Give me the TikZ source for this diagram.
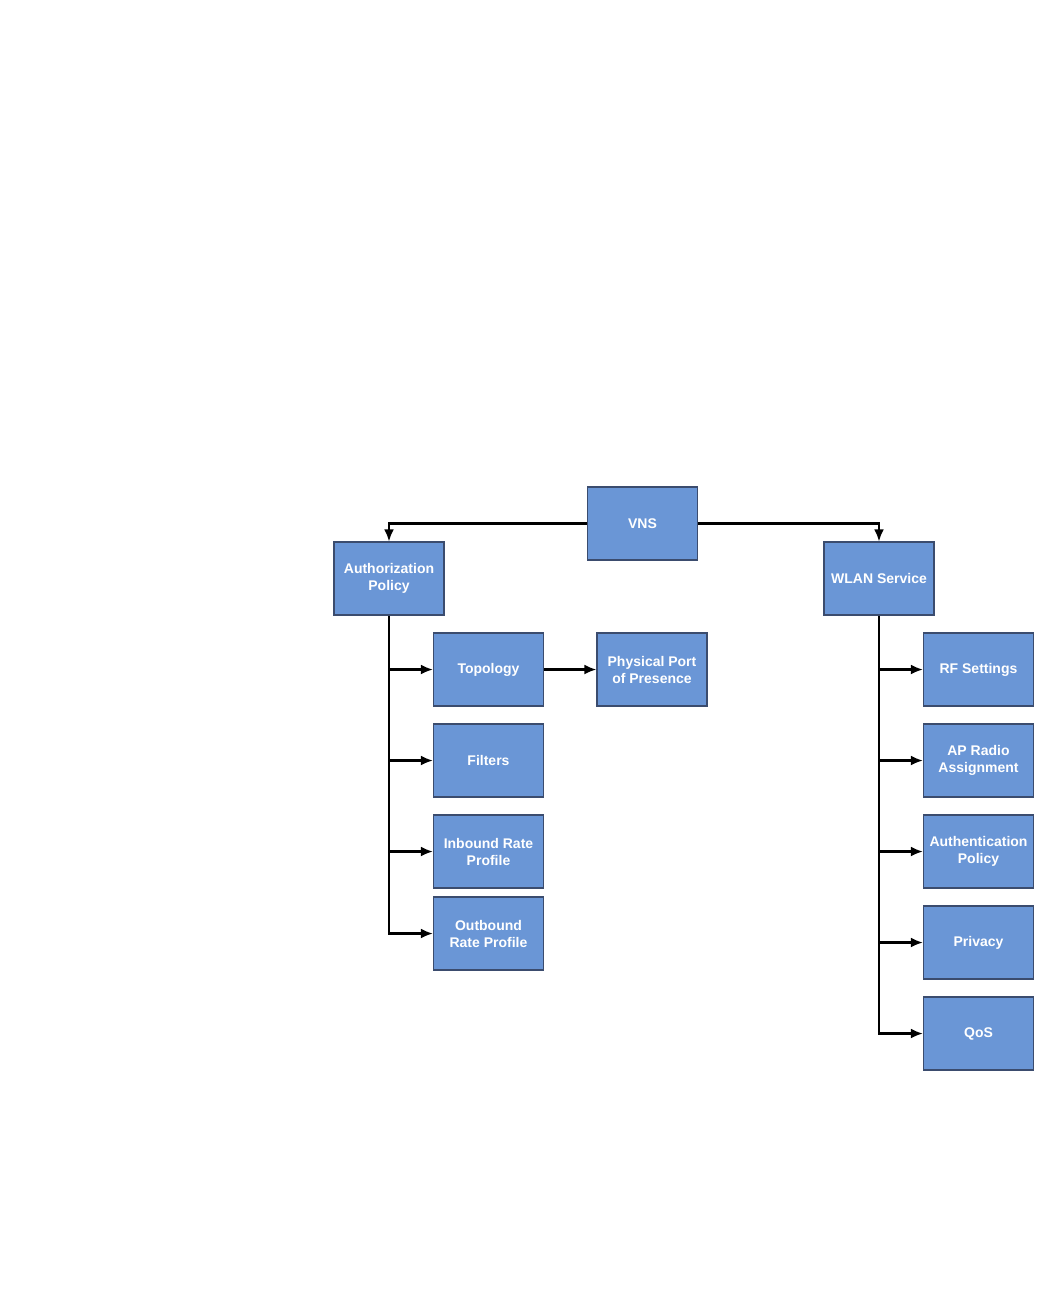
\documentclass[tikz,border=0pt]{standalone}
\usepackage{fontspec}
\setmainfont{Liberation Sans}
\usepackage{xcolor}
\usetikzlibrary{arrows.meta}
\definecolor{box-fill}{HTML}{6A96D6}
\definecolor{box-edge}{HTML}{3B4C6E}
\tikzset{
    vns-box/.style = {draw=box-edge, fill=box-fill, line width=0.6pt, rectangle, minimum width=55pt, minimum height=36.5pt, inner sep=1pt, align=center, text=white, font=\fontsize{7}{8.5}\selectfont\bfseries},
    vns-link/.style = {draw=black, line width=1.1pt, -{Latex[length=6pt,width=5pt]}},
}

\begin{document}
\begin{tikzpicture}[x=0.5pt, y=-0.5pt]
\useasboundingbox (0,0) rectangle (1038,1314);
\node[vns-box] (vns) at (642.5,523.5) {VNS};
\node[vns-box] (authz) at (389,578.5) {Authorization\\Policy};
\node[vns-box] (wlan) at (879,578.5) {WLAN Service};
\node[vns-box] (topo) at (488.5,669.5) {Topology};
\node[vns-box] (port) at (652,669.5) {Physical Port\\of Presence};
\node[vns-box] (filters) at (488.5,760.5) {Filters};
\node[vns-box] (inrate) at (488.5,851.5) {Inbound Rate\\Profile};
\node[vns-box] (outrate) at (488.5,933.5) {Outbound\\Rate Profile};
\node[vns-box] (rf) at (978.5,669.5) {RF Settings};
\node[vns-box] (apradio) at (978.5,760.5) {AP Radio\\Assignment};
\node[vns-box] (authn) at (978.5,851.5) {Authentication\\Policy};
\node[vns-box] (privacy) at (978.5,942.5) {Privacy};
\node[vns-box] (qos) at (978.5,1033.5) {QoS};
% top level
\draw[vns-link] (vns.west) -| (authz.north);
\draw[vns-link] (vns.east) -| (wlan.north);
% authorization branch
\draw[vns-link] (authz.south) |- (outrate.west);
\draw[vns-link] (authz.south |- topo.west) -- (topo.west);
\draw[vns-link] (authz.south |- filters.west) -- (filters.west);
\draw[vns-link] (authz.south |- inrate.west) -- (inrate.west);
\draw[vns-link] (topo.east) -- (port.west);
% wlan branch
\draw[vns-link] (wlan.south) |- (qos.west);
\draw[vns-link] (wlan.south |- rf.west) -- (rf.west);
\draw[vns-link] (wlan.south |- apradio.west) -- (apradio.west);
\draw[vns-link] (wlan.south |- authn.west) -- (authn.west);
\draw[vns-link] (wlan.south |- privacy.west) -- (privacy.west);
\end{tikzpicture}
\end{document}
